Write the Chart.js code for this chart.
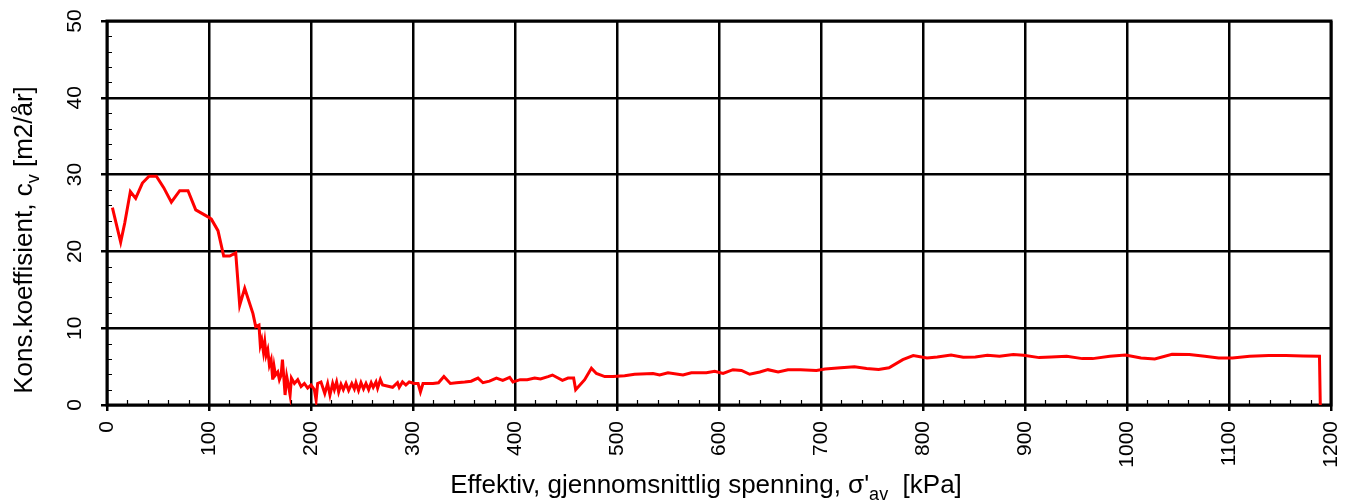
<!DOCTYPE html>
<html>
<head>
<meta charset="utf-8">
<script src="https://cdn.jsdelivr.net/npm/chart.js@4.4.1/dist/chart.umd.min.js"></script>
<style>
html, body { margin: 0; padding: 0; background: #fff; }
</style>
</head>
<body>
<canvas id="cvChart" width="1355" height="502"></canvas>
<script>
// effective mean stress [kPa]
var stress = [5.3, 8.5, 13.4, 17.4, 22.9, 28.1, 34.7, 41.2, 48.4, 55.6, 63.1, 71.3, 79.4, 87, 99, 102.3,
    108.8, 114.4, 120.3, 126.2, 130.1, 135, 143.1, 145.8, 149, 150.3, 151.7, 153.4, 154.7, 156, 157.6,
    159.2, 160.9, 162.5, 163.8, 165.1, 167.4, 169, 170.7, 172, 173.3, 174.6, 176.2, 178.1, 179.5, 180.8,
    183.7, 187, 190.3, 193.5, 196.7, 200, 203.3, 205, 206.5, 209.8, 213.5, 216.3, 218.6, 221.2, 222.9,
    225.1, 227.1, 229.4, 231.7, 234.3, 236.9, 240, 242.5, 244.1, 246.6, 249, 251.5, 253.9, 256.5, 259,
    261, 263.7, 265.3, 268, 270.2, 276.7, 280, 284.8, 286.5, 289.7, 293, 296.3, 301.2, 305, 307.3, 309.8,
    319.6, 325, 330.3, 336.6, 342.5, 350.7, 357, 363.7, 368.6, 375, 381.8, 388, 394.8, 398, 405, 412,
    419.3, 425, 432.4, 436.7, 446.5, 452, 457.5, 459.5, 468.3, 474.9, 479.8, 488, 496, 507.5, 517.3,
    535.3, 541.8, 550, 564.7, 572.9, 587.6, 595.8, 604, 613.7, 622, 630.1, 640, 648, 658, 667.6, 680,
    695.5, 704, 719.3, 732.8, 744.7, 756.5, 766.7, 780.2, 790.4, 803.9, 814, 827.5, 839.4, 851.3, 863.1,
    875, 888.5, 898.6, 913.9, 925.7, 940.9, 956.2, 966.3, 983.2, 998.5, 1013.7, 1027.2, 1044.2, 1061.1,
    1076.3, 1089.8, 1103.4, 1120.3, 1138.9, 1155.8, 1172.7, 1188.7, 1189.5];

// consolidation coefficient cv [m2/år]
var cv = [25.7, 23.9, 21.2, 23.7, 27.8, 26.9, 28.9, 29.8, 29.8, 28.3, 26.4, 27.9, 27.9, 25.4, 24.5, 24.2,
    22.7, 19.4, 19.4, 19.8, 13.0, 15.2, 11.9, 10.2, 10.4, 7.8, 8.5, 6.9, 8.2, 6.5, 7.2,
    5.2, 5.9, 3.3, 5.0, 3.9, 4.3, 3.3, 3.9, 5.9, 3.7, 1.3, 3.7, 2.4, 1.3, 3.5,
    2.8, 3.3, 2.4, 2.8, 2.2, 2.6, 2.0, 0.65, 2.8, 3.0, 1.5, 2.8, 1.3, 2.8, 2.0,
    3.0, 1.7, 2.7, 2.0, 2.8, 1.9, 2.8, 2.1, 2.9, 1.9, 2.9, 2.1, 2.8, 2.0, 2.9,
    2.3, 3.0, 2.2, 3.3, 2.6, 2.4, 2.3, 2.9, 2.3, 3.0, 2.6, 3.0, 2.8, 2.8, 1.7, 2.8,
    2.8, 2.9, 3.7, 2.8, 2.9, 3.0, 3.1, 3.5, 2.9, 3.1, 3.5, 3.2, 3.6, 3.0, 3.3, 3.3,
    3.5, 3.4, 3.7, 3.9, 3.2, 3.5, 3.5, 2.0, 3.3, 4.8, 4.1, 3.7, 3.7, 3.8, 4.0,
    4.1, 3.9, 4.2, 3.9, 4.2, 4.2, 4.4, 4.1, 4.6, 4.5, 4.0, 4.3, 4.6, 4.3, 4.6, 4.6,
    4.5, 4.7, 4.84, 4.97, 4.76, 4.63, 4.84, 5.91, 6.43, 6.13, 6.26, 6.51, 6.21, 6.26, 6.47,
    6.34, 6.56, 6.47, 6.17, 6.26, 6.34, 6.04, 6.04, 6.34, 6.51, 6.13, 6.0, 6.6, 6.56,
    6.34, 6.13, 6.13, 6.34, 6.43, 6.43, 6.38, 6.34, 0];

var xTitle = ["Effektiv, gjennomsnittlig spenning, \u03c3'", "av", "  [kPa]"];
var yTitle = ["Kons.koeffisient, c", "v", " [m2/\u00e5r]"];

var fontFamily = '"Liberation Sans", Arial, sans-serif';

// title with a subscript in the middle part
function drawTitle(ctx, parts, size) {
    var mainFont = size + 'px ' + fontFamily;
    var subFont = Math.round(size * 0.7) + 'px ' + fontFamily;
    ctx.font = mainFont;
    var w0 = ctx.measureText(parts[0]).width;
    var w2 = ctx.measureText(parts[2]).width;
    ctx.font = subFont;
    var w1 = ctx.measureText(parts[1]).width;
    var x = -(w0 + w1 + w2) / 2;
    ctx.textAlign = 'left';
    ctx.textBaseline = 'alphabetic';
    ctx.fillStyle = '#000';
    ctx.font = mainFont;
    ctx.fillText(parts[0], x, 0);
    ctx.font = subFont;
    ctx.fillText(parts[1], x + w0, size * 0.25);
    ctx.font = mainFont;
    ctx.fillText(parts[2], x + w0 + w1, 0);
}

var framePlugin = {
    id: 'framePlugin',
    beforeDatasetsDraw: function(chart) {
        var ctx = chart.ctx;
        var a = chart.chartArea;
        var xs = chart.scales.x, ys = chart.scales.y;
        ctx.save();
        ctx.strokeStyle = '#000';
        ctx.lineWidth = 1.2;
        ctx.beginPath();
        // minor ticks pointing inwards
        for (var v = 20; v < 1200; v += 20) {
            if (v % 100 === 0) continue;
            var px = Math.round(xs.getPixelForValue(v)) + 0.5;
            ctx.moveTo(px, a.bottom);
            ctx.lineTo(px, a.bottom - 5);
        }
        for (var w = 2; w < 50; w += 2) {
            if (w % 10 === 0) continue;
            var py = Math.round(ys.getPixelForValue(w)) + 0.5;
            ctx.moveTo(a.left, py);
            ctx.lineTo(a.left + 5, py);
        }
        ctx.stroke();
        ctx.lineWidth = 3;
        ctx.strokeRect(a.left, a.top, a.right - a.left, a.bottom - a.top);
        ctx.restore();
    },
    afterDraw: function(chart) {
        var ctx = chart.ctx;
        ctx.save();
        ctx.translate(706, 493);
        drawTitle(ctx, xTitle, 26);
        ctx.restore();
        ctx.save();
        ctx.translate(32, 240);
        ctx.rotate(-Math.PI / 2);
        drawTitle(ctx, yTitle, 26);
        ctx.restore();
    }
};

var ctx = document.getElementById('cvChart').getContext('2d');
var points = stress.map(function(s, i) { return { x: s, y: cv[i] }; });

var cvChart = new Chart(ctx, {
    type: 'scatter',
    data: {
        datasets: [{
            data: points,
            showLine: true,
            borderColor: '#ff0000',
            borderWidth: 3,
            pointRadius: 0,
            tension: 0,
            fill: false
        }]
    },
    options: {
        responsive: false,
        animation: false,
        layout: { padding: { left: 0, right: 24, top: 21, bottom: 0 } },
        plugins: { legend: { display: false }, tooltip: { enabled: false } },
        scales: {
            x: {
                type: 'linear',
                min: 0,
                max: 1200,
                afterFit: function(scale) {
                    scale.height = 97;
                    scale.paddingLeft = 0;
                    scale.paddingRight = 0;
                },
                border: { display: false },
                grid: {
                    color: '#000',
                    lineWidth: function(c) { return c.tick && c.tick.value % 100 === 0 ? 2.5 : 0; },
                    tickLength: 6
                },
                ticks: {
                    stepSize: 20,
                    autoSkip: false,
                    minRotation: 90,
                    maxRotation: 90,
                    padding: 10,
                    color: '#000',
                    font: { family: fontFamily, size: 21 },
                    callback: function(v) { return v % 100 === 0 ? String(v) : ''; }
                }
            },
            y: {
                type: 'linear',
                min: 0,
                max: 50,
                afterFit: function(scale) {
                    scale.width = 107;
                    scale.paddingTop = 0;
                    scale.paddingBottom = 0;
                },
                border: { display: false },
                grid: {
                    color: '#000',
                    lineWidth: function(c) { return c.tick && c.tick.value % 10 === 0 ? 2.5 : 0; },
                    tickLength: 6
                },
                ticks: {
                    stepSize: 2,
                    autoSkip: false,
                    minRotation: 90,
                    maxRotation: 90,
                    crossAlign: 'center',
                    padding: 14,
                    color: '#000',
                    font: { family: fontFamily, size: 21 },
                    callback: function(v) { return v % 10 === 0 ? String(v) : ''; }
                }
            }
        }
    },
    plugins: [framePlugin]
});
</script>
</body>
</html>
